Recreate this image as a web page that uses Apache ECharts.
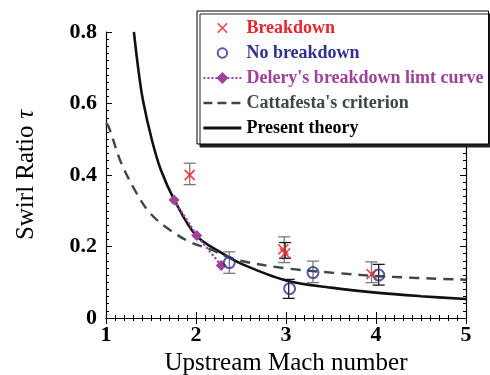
<!DOCTYPE html>
<html>
<head>
<meta charset="utf-8">
<script src="https://cdn.jsdelivr.net/npm/echarts@6/dist/echarts.min.js"></script>
<style>
html,body{margin:0;padding:0;background:#fff;}
#chart{width:490px;height:375px;}
</style>
</head>
<body>
<div id="chart"></div>
<script>
// ---- data ----
const xTicks = [1, 2, 3, 4, 5];
const yTicks = [0, 0.2, 0.4, 0.6, 0.8];

const breakdownM   = [1.93, 2.97, 2.99, 3.95];
const breakdownTau = [0.400, 0.192, 0.181, 0.123];

const noBreakM   = [2.37, 3.04, 3.30, 4.03];
const noBreakTau = [0.155, 0.082, 0.127, 0.120];

const deleryM   = [1.756, 2.008, 2.28];
const deleryTau = [0.330, 0.231, 0.147];

const cattM   = [1.00, 1.03, 1.17, 1.34, 1.49, 1.71, 1.93, 2.16, 2.43, 3.00, 3.60, 4.10, 5.00];
const cattTau = [0.545, 0.535, 0.433, 0.349, 0.293, 0.246, 0.213, 0.192, 0.164, 0.139, 0.125, 0.116, 0.107];

const theoryM   = [1.31, 1.36, 1.41, 1.51, 1.61, 1.76, 2.00, 2.27, 2.50, 3.00, 3.50, 4.00, 4.50, 5.00];
const theoryTau = [0.800, 0.694, 0.610, 0.498, 0.414, 0.330, 0.231, 0.184, 0.152, 0.105, 0.085, 0.071, 0.061, 0.053];

// error bars (gray group and black group)
const grayBarM    = [1.93, 2.98, 2.37, 3.30, 3.95];
const grayBarLow  = [0.373, 0.155, 0.125, 0.099, 0.099];
const grayBarHigh = [0.433, 0.227, 0.185, 0.159, 0.157];
const blackBarM    = [2.99, 3.03, 4.03];
const blackBarLow  = [0.167, 0.055, 0.092];
const blackBarHigh = [0.211, 0.108, 0.150];

const legendNames = ['Breakdown', 'No breakdown', "Delery's breakdown limt curve", "Cattafesta's criterion", 'Present theory'];

// ---- build ----
const zip = (a, b) => a.map((v, i) => [v, b[i]]);
const zip3 = (a, b, c) => a.map((v, i) => [v, b[i], c[i]]);

const RED = '#e8262c', BLUE = '#2e3192', PURPLE = '#a0409a', SLATE = '#3b4848';
const SERIF = "'Liberation Serif','Times New Roman',serif";
const xPath = 'path://M0,0L10,10M10,0L0,10';
const xLegPath = 'path://M-3,-3M13,13M0,0L10,10M10,0L0,10';
const oLegPath = 'path://M-3,-3M13,13M0,5A5,5,0,1,1,10,5A5,5,0,1,1,0,5Z';

function errRender(color) {
  return function (params, api) {
    const x = api.value(0);
    const lo = api.coord([x, api.value(1)]);
    const hi = api.coord([x, api.value(2)]);
    const w = 6;
    const style = { stroke: color, lineWidth: 1.3, fill: null };
    return {
      type: 'group',
      children: [
        { type: 'line', shape: { x1: lo[0], y1: lo[1], x2: hi[0], y2: hi[1] }, style },
        { type: 'line', shape: { x1: lo[0] - w, y1: lo[1], x2: lo[0] + w, y2: lo[1] }, style },
        { type: 'line', shape: { x1: hi[0] - w, y1: hi[1], x2: hi[0] + w, y2: hi[1] }, style }
      ]
    };
  };
}

const axisCommon = {
  axisLine: { show: true, lineStyle: { color: '#000', width: 1.2 } },
  axisTick: { show: true, inside: true, length: 6, lineStyle: { color: '#000' } },
  minorTick: { show: true, splitNumber: 10, length: 3, lineStyle: { color: '#000' } },
  splitLine: { show: false }
};

const option = {
  animation: false,
  backgroundColor: '#fff',
  grid: { left: 106, right: 24, top: 32, bottom: 57, containLabel: false, outerBoundsMode: 'none' },
  xAxis: [
    Object.assign({
      type: 'value', min: xTicks[0], max: xTicks[xTicks.length - 1], interval: 1,
      name: 'Upstream Mach number', nameLocation: 'middle', nameGap: 33,
      nameTextStyle: { fontFamily: SERIF, fontSize: 25, color: '#000' },
      axisLabel: { fontFamily: SERIF, fontWeight: 'bold', fontSize: 22, color: '#000', margin: 6 }
    }, axisCommon),
    Object.assign({
      type: 'value', position: 'top', min: xTicks[0], max: xTicks[xTicks.length - 1], interval: 1,
      axisLabel: { show: false }
    }, axisCommon)
  ],
  yAxis: [
    Object.assign({
      type: 'value', min: yTicks[0], max: yTicks[yTicks.length - 1], interval: 0.2,
      name: '{a|Swirl Ratio}  {b|τ}', nameLocation: 'middle', nameGap: 67, nameRotate: 90,
      nameTextStyle: {
        color: '#000',
        rich: {
          a: { fontFamily: SERIF, fontSize: 25, color: '#000' },
          b: { fontFamily: SERIF, fontSize: 25, fontStyle: 'italic', color: '#000' }
        }
      },
      axisLabel: {
        fontFamily: SERIF, fontWeight: 'bold', fontSize: 22, color: '#000', margin: 9,
        formatter: v => (v === 0 ? '0' : String(Math.round(v * 10) / 10))
      }
    }, axisCommon),
    Object.assign({
      type: 'value', position: 'right', min: yTicks[0], max: yTicks[yTicks.length - 1], interval: 0.2,
      axisLabel: { show: false }
    }, axisCommon)
  ],
  legend: {
    orient: 'vertical', left: 197, top: 11,
    padding: [8, 5, 7, 5], itemGap: 7, itemWidth: 38, itemHeight: 15,
    backgroundColor: '#fff', borderColor: '#000', borderWidth: 1,
    shadowColor: '#222', shadowOffsetX: 3, shadowOffsetY: 3, shadowBlur: 0,
    textStyle: { fontFamily: SERIF, fontWeight: 'bold', fontSize: 18 },
    data: [
      { name: legendNames[0], icon: xLegPath, textStyle: { color: RED }, itemStyle: { color: 'transparent', borderColor: RED, borderWidth: 1.6 } },
      { name: legendNames[1], icon: oLegPath, textStyle: { color: BLUE }, itemStyle: { color: 'transparent', borderColor: BLUE, borderWidth: 2 } },
      { name: legendNames[2], textStyle: { color: PURPLE } },
      { name: legendNames[3], icon: 'line', textStyle: { color: SLATE }, itemStyle: { color: SLATE, borderColor: SLATE, borderWidth: 2.6, borderType: [9, 5] } },
      { name: legendNames[4], icon: 'line', textStyle: { color: '#000' }, itemStyle: { color: '#111', borderColor: '#111', borderWidth: 2.8 } }
    ]
  },
  series: [
    {
      type: 'custom', name: 'errGray', renderItem: errRender('#7a7a7a'),
      data: zip3(grayBarM, grayBarLow, grayBarHigh), z: 2, silent: true
    },
    {
      type: 'custom', name: 'errBlack', renderItem: errRender('#1a1a1a'),
      data: zip3(blackBarM, blackBarLow, blackBarHigh), z: 2, silent: true
    },
    {
      type: 'line', name: legendNames[4], data: zip(theoryM, theoryTau),
      smooth: 0.35, showSymbol: false, symbol: 'none',
      lineStyle: { color: '#111', width: 2.6 }, itemStyle: { color: '#111' }, z: 3
    },
    {
      type: 'line', name: legendNames[3], data: zip(cattM, cattTau),
      smooth: 0.35, showSymbol: false, symbol: 'none',
      lineStyle: { color: SLATE, width: 2.4, type: [10, 7] }, itemStyle: { color: SLATE }, z: 3
    },
    {
      type: 'line', name: legendNames[2], data: zip(deleryM, deleryTau),
      symbol: 'diamond', symbolSize: 11,
      lineStyle: { color: PURPLE, width: 2.2, type: 'dotted' }, itemStyle: { color: PURPLE }, z: 4
    },
    {
      type: 'scatter', name: legendNames[1], data: zip(noBreakM, noBreakTau),
      symbol: 'circle', symbolSize: 11,
      itemStyle: { color: 'transparent', borderColor: BLUE, borderWidth: 2 }, z: 5
    },
    {
      type: 'scatter', name: legendNames[0], data: zip(breakdownM, breakdownTau),
      symbol: xPath, symbolSize: 10,
      itemStyle: { color: 'transparent', borderColor: RED, borderWidth: 1.8 }, z: 6
    }
  ]
};

const chart = echarts.init(document.getElementById('chart'), null, { renderer: 'canvas' });
chart.setOption(option);
</script>
</body>
</html>
